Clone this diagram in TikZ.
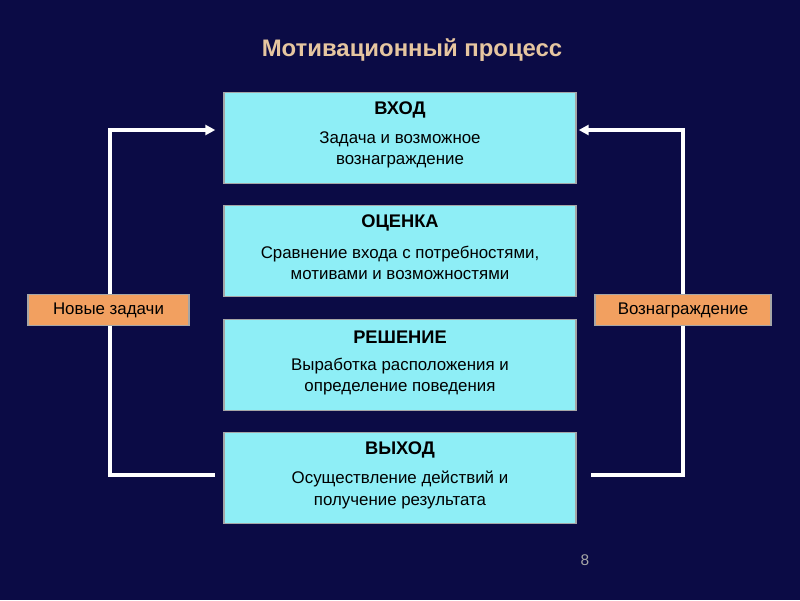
\documentclass[tikz,border=0pt]{standalone}
\usepackage{fontspec}
\setmainfont{Liberation Sans}
\usetikzlibrary{arrows.meta}
\definecolor{bg}{HTML}{0B0B45}
\definecolor{boxc}{HTML}{8EEEF6}
\definecolor{orng}{HTML}{F2A060}
\definecolor{ttl}{HTML}{E6C6A0}
\tikzset{
  stage/.style={draw=gray!70,line width=1pt,fill=boxc,minimum width=352\px,minimum height=91\px,inner sep=0pt},
  side/.style={draw=gray!70,line width=1pt,fill=orng,minimum height=31\px,inner sep=0pt,font=\fontsize{12}{14}\selectfont},
  link/.style={white,line width=2.5pt},
  arr/.style={link,-{Triangle[length=7pt,width=7pt]}}
}
\newlength{\px}\setlength{\px}{0.25mm}
\begin{document}
\begin{tikzpicture}[x=0.25mm,y=-0.25mm]
\fill[bg] (0,0) rectangle (800,600);
\node[ttl,font=\bfseries\fontsize{17}{20}\selectfont] (title) at (412,50) {Мотивационный процесс};
\def\stg#1#2#3#4{\node[stage] (#1) at (400,#2) {};
 \node[font=\bfseries\fontsize{13}{15}\selectfont] at (400,#2-28) {#3};
 \node[align=center,font=\fontsize{12}{15}\selectfont] at (400,#2+12) {#4};}
\stg{in}{138}{ВХОД}{Задача и возможное\\вознаграждение}
\stg{ev}{251}{ОЦЕНКА}{Сравнение входа с потребностями,\\мотивами и возможностями}
\stg{dec}{365}{РЕШЕНИЕ}{Выработка расположения и\\определение поведения}
\stg{out}{478}{ВЫХОД}{Осуществление действий и\\получение результата}
\node[side,minimum width=161\px] (nz) at (108.5,310) {Новые задачи};
\node[side,minimum width=176\px] (rw) at (683,310) {Вознаграждение};
\coordinate (lt) at (110,130); \coordinate (lb) at (110,475);
\coordinate (rt) at (683,130); \coordinate (rb) at (683,475);
\draw[arr] (nz.north -| lt) -- (lt) -- ([xshift=-8\px]in.west |- lt);
\draw[link] (nz.south -| lb) -- (lb) -- ([xshift=-8\px]out.west |- lb);
\draw[arr] (rw.north) -- (rt) -- ([xshift=2\px]in.east |- rt);
\draw[link] (rw.south) -- (rb) -- ([xshift=14\px]out.east |- rb);
\node[gray!70,font=\fontsize{11}{13}\selectfont] (pg) at (585,560) {8};
\end{tikzpicture}
\end{document}
